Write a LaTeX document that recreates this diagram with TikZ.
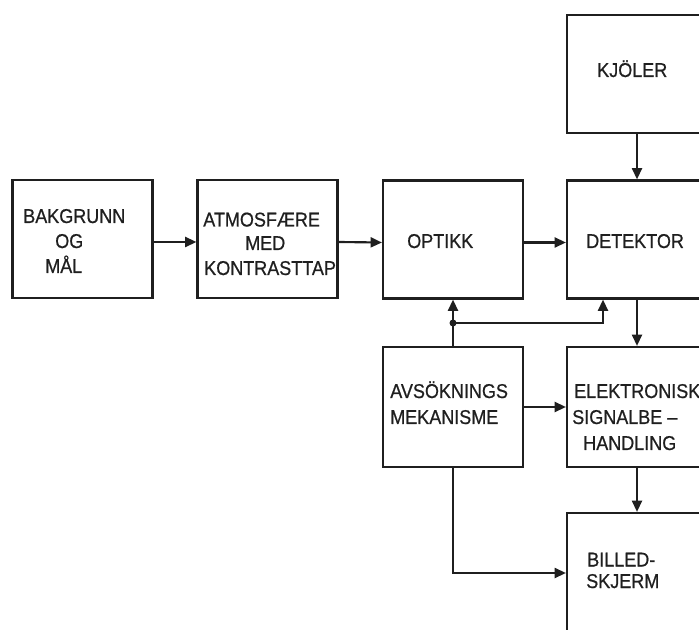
\documentclass[tikz,border=0pt]{standalone}
\usepackage{fontspec}
\setmainfont{Liberation Sans}[FakeStretch=0.9,FakeBold=0.6]
\usetikzlibrary{arrows.meta}
\begin{document}
\begin{tikzpicture}[x=0.75pt,y=-0.75pt,
  ink/.style={draw=black!88},
  box/.style={ink, line width=1.6pt, minimum width=105pt, minimum height=88.5pt, inner sep=0pt},
  tall/.style={minimum height=90pt},
  lbl/.style={anchor=base west, inner sep=0pt, font=\fontsize{15}{18}\selectfont, text=black!88},
  arr/.style={ink, line width=1.6pt, -{Triangle[length=8.5pt,width=7.5pt]}}]
\useasboundingbox (0,0) rectangle (699,630);
\fill[white] (0,0) rectangle (699,630);
\clip (0,0) rectangle (699,630);
% boxes
\node[box] (bg)  at (82.5,239) {};
\node[box] (atm) at (267.5,239) {};
\node[box] (opt) at (453,239.5) {};
\node[box] (det) at (637,239.5) {};
\node[box] (kj)  at (637,74) {};
\node[box,tall] (avs) at (453,407) {};
\node[box,tall] (ele) at (637,407) {};
\node[box,tall] (bil) at (637,573) {};
% labels
\node[lbl] (t1) at (23,223) {BAKGRUNN};
\node[lbl] (t2) at (55,248) {OG};
\node[lbl] (t3) at (45,273) {MÅL};
\node[lbl] (t4) at (203,226.5) {ATMOSFÆRE};
\node[lbl] (t5) at (245,250) {MED};
\node[lbl] (t6) at (204,275) {KONTRASTTAP};
\node[lbl] (t7) at (407,248) {OPTIKK};
\node[lbl] (t8) at (586,248) {DETEKTOR};
\node[lbl] (t9) at (597,77) {KJÖLER};
\node[lbl] (t10) at (390,398) {AVSÖKNINGS};
\node[lbl] (t11) at (390,424) {MEKANISME};
\node[lbl] (t12) at (574,398) {ELEKTRONISK};
\node[lbl] (t13) at (572,424) {SIGNALBE –};
\node[lbl] (t14) at (583,450) {HANDLING};
\node[lbl] (t15) at (587,566.5) {BILLED-};
\node[lbl] (t16) at (586,588) {SKJERM};
% connectors
\draw[arr] ([yshift=-2.25pt]bg.east) -- ([yshift=-2.25pt]atm.west);
\draw[arr] ([yshift=-2.25pt]atm.east) -- ([yshift=-2.25pt]opt.west);
\draw[arr] ([yshift=-2.25pt]opt.east) -- ([yshift=-2.25pt]det.west);
\draw[arr] (kj.south) -- (det.north);
\draw[arr] (det.south) -- (ele.north);
\draw[arr] (ele.south) -- (bil.north);
\draw[arr] (avs.east) -- (ele.west);
\coordinate (j) at (453,323);
\draw[arr] (avs.north) -- (opt.south);
\draw[arr] (j) -| ([xshift=-25.5pt]det.south);
\fill[black!88] (j) circle (3.5);
\draw[arr] (avs.south) |- (bil.west);
\end{tikzpicture}
\end{document}
